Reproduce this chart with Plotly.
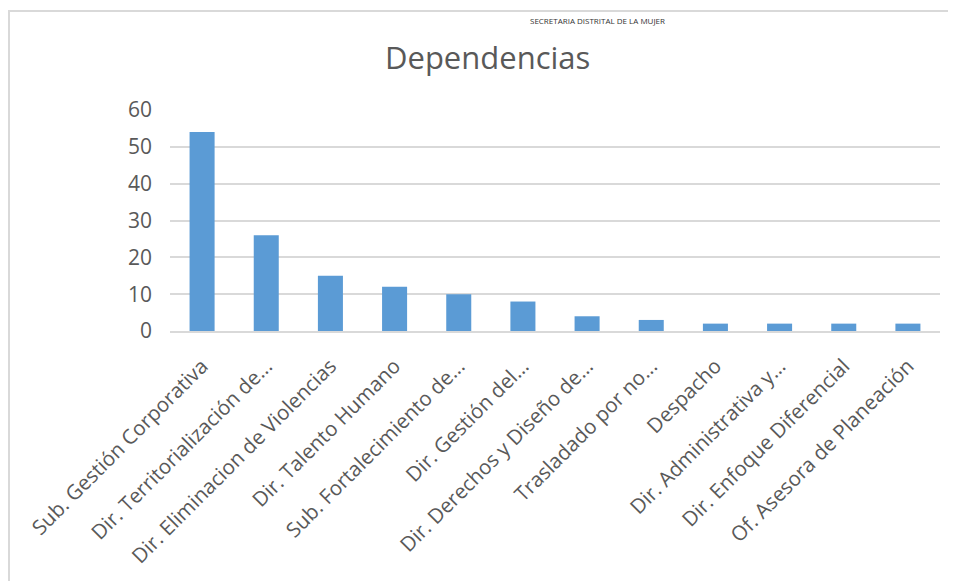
import plotly.graph_objects as go

categories = [
    "Sub. Gestión Corporativa",
    "Dir. Territorialización de...",
    "Dir. Eliminacion de Violencias",
    "Dir. Talento Humano",
    "Sub. Fortalecimiento de...",
    "Dir. Gestión del...",
    "Dir. Derechos y Diseño de...",
    "Trasladado por no...",
    "Despacho",
    "Dir. Administrativa y...",
    "Dir. Enfoque Diferencial",
    "Of. Asesora de Planeación",
]
values = [54, 26, 15, 12, 10, 8, 4, 3, 2, 2, 2, 2]
y_ticks = [0, 10, 20, 30, 40, 50, 60]

# page has an 8px body margin; figure coordinates below are screen - 8
OFF = 8
W, H = 956 - OFF, 581 - OFF
L, R, T, B = 170 - OFF, 16, 110 - OFF, 250
pw, ph = W - L - R, H - T - B

def sx(px):
    return (px - OFF - L) / pw

def sy(py):
    return (H - B - (py - OFF)) / ph

fig = go.Figure(go.Bar(x=categories, y=values, marker=dict(color="#5b9bd5", line=dict(width=0))))

fig.update_layout(
    width=W, height=H,
    margin=dict(l=L, r=R, t=T, b=B),
    paper_bgcolor="white", plot_bgcolor="white",
    font=dict(family="Open Sans", color="#595959"),
    bargap=0.61,
    showlegend=False,
    xaxis=dict(tickangle=-45, tickfont=dict(size=20.5, color="#595959"), showgrid=False,
               showline=True, linecolor="#d9d9d9", linewidth=2, ticks="", ticklabelstandoff=13),
    yaxis=dict(range=[0, 60], tickvals=y_ticks, tickfont=dict(size=21, color="#595959"),
               showgrid=True, gridcolor="#d9d9d9", gridwidth=2, zeroline=False, ticks="", ticklabelstandoff=17),
    annotations=[
        dict(text="Dependencias", x=sx(487), y=sy(57), xref="paper", yref="paper",
             showarrow=False, font=dict(size=31, color="#595959"), xanchor="center", yanchor="middle"),
        dict(text="SECRETARIA DISTRITAL DE LA MUJER", x=sx(597), y=sy(13), xref="paper", yref="paper",
             showarrow=False, font=dict(size=8, color="#333333"), xanchor="center", yanchor="top"),
    ],
    shapes=[
        dict(type="line", xref="paper", yref="paper", x0=sx(8), x1=sx(970),
             y0=sy(11), y1=sy(11), line=dict(color="#d9d9d9", width=2)),
        dict(type="line", xref="paper", yref="paper", x0=sx(9), x1=sx(9),
             y0=sy(11), y1=sy(600), line=dict(color="#d9d9d9", width=2)),
    ],
)

fig.write_html("out.html")
